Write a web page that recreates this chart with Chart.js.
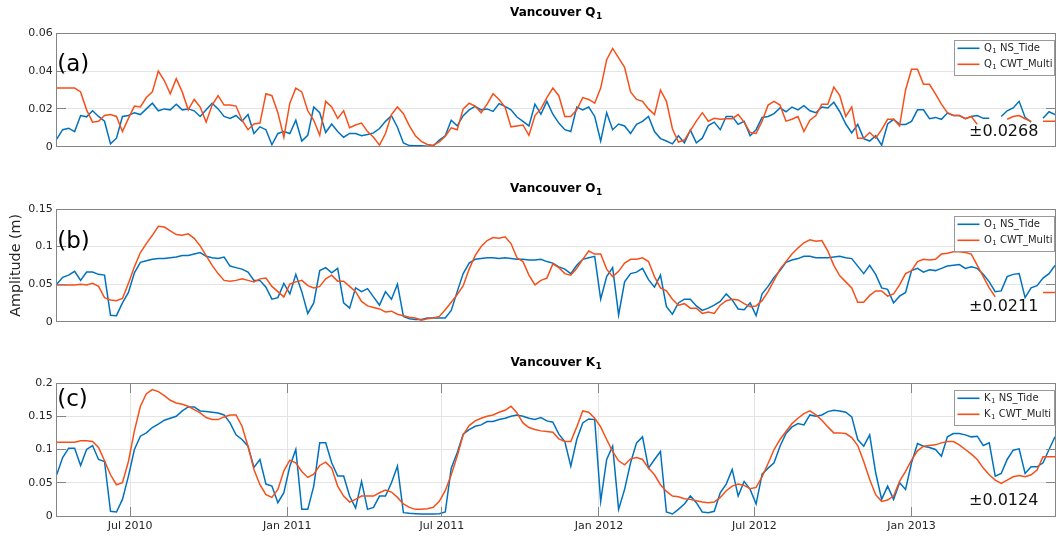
<!DOCTYPE html>
<html>
<head>
<meta charset="utf-8">
<script src="https://cdn.jsdelivr.net/npm/chart.js@4.4.1/dist/chart.umd.min.js"></script>
<style>
  html, body { margin: 0; padding: 0; background: #ffffff; }
  #wrap { position: relative; width: 1056px; height: 536px; }
  #wrap canvas { position: absolute; left: 0; top: 0; }
</style>
</head>
<body>
<div id="wrap">
  <canvas id="q1" width="1056" height="536"></canvas>
  <canvas id="o1" width="1056" height="536"></canvas>
  <canvas id="k1" width="1056" height="536"></canvas>
</div>
<script>
// Weekly amplitude estimates, first sample on 6 Apr 2010
const SERIES_START = Date.UTC(2010, 3, 6);
const STEP_DAYS = 7;
const DAY_MS = 864e5;

const tickLabels = ['Jul 2010', 'Jan 2011', 'Jul 2011', 'Jan 2012', 'Jul 2012', 'Jan 2013'];
const tickDates = [[2010, 6], [2011, 0], [2011, 6], [2012, 0], [2012, 6], [2013, 0]];

const q1Ticks = [0, 0.02, 0.04, 0.06];
const o1Ticks = [0, 0.05, 0.1, 0.15];
const k1Ticks = [0, 0.05, 0.1, 0.15, 0.2];

// Q1 amplitude (m)
const q1Tide = [
  0.004,0.009,0.0098,0.008,0.0165,0.0158,0.019,0.016,0.0135,0.0015,
  0.0045,0.016,0.0165,0.018,0.017,0.020,0.023,0.019,0.020,0.0195,
  0.0225,0.0195,0.020,0.019,0.016,0.0195,0.023,0.020,0.016,0.015,
  0.0165,0.0135,0.017,0.007,0.0105,0.009,0.001,0.007,0.008,0.007,
  0.014,0.003,0.006,0.021,0.018,0.0075,0.012,0.008,0.005,0.007,
  0.007,0.0058,0.0065,0.0073,0.0096,0.0134,0.0164,0.0103,0.002,0.0006,
  0.0005,0.0005,0.0003,0.0005,0.0035,0.0058,0.014,0.011,0.0164,0.0195,
  0.0213,0.0195,0.020,0.0187,0.0228,0.0213,0.0195,0.0157,0.0134,0.011,
  0.0225,0.0172,0.024,0.0172,0.0125,0.009,0.008,0.021,0.0195,0.021,
  0.016,0.003,0.018,0.009,0.012,0.011,0.007,0.0118,0.0134,0.016,
  0.008,0.0043,0.003,0.0015,0.0058,0.002,0.0088,0.002,0.0045,0.0112,
  0.013,0.009,0.016,0.016,0.0118,0.0134,0.0058,0.009,0.0155,0.016,
  0.0175,0.0205,0.0185,0.021,0.0195,0.0217,0.019,0.018,0.021,0.0205,
  0.0235,0.0185,0.012,0.0073,0.0118,0.0043,0.003,0.0058,0.0008,0.012,
  0.0145,0.0118,0.0118,0.0134,0.0195,0.0195,0.0148,0.0155,0.0145,0.0178,
  0.0165,0.0165,0.0148,0.016,0.0165,0.015,0.015,null,0.016,0.019,
  0.0205,0.024,0.0155,0.013,null,0.015,0.0185,0.017
];
const q1Cwt = [
  0.031,0.031,0.031,0.031,0.029,0.0195,0.013,0.0135,0.0165,0.017,
  0.016,0.008,0.015,0.0215,0.021,0.026,0.029,0.040,0.035,0.028,
  0.036,0.029,0.0195,0.025,0.021,0.013,0.022,0.027,0.022,0.022,
  0.0215,0.014,0.009,0.012,0.0125,0.028,0.027,0.018,0.005,0.023,
  0.031,0.029,0.019,0.014,0.006,0.024,0.021,0.015,0.019,0.010,
  0.0115,0.0125,0.008,0.005,0.0008,0.007,0.017,0.021,0.0175,0.011,
  0.0058,0.0028,0.0012,0.0008,0.0025,0.0055,0.010,0.009,0.020,0.023,
  0.0215,0.018,0.0225,0.028,0.025,0.021,0.0105,0.011,0.0115,0.006,
  0.0165,0.020,0.026,0.031,0.027,0.016,0.016,0.0195,0.026,0.025,
  0.023,0.031,0.046,0.052,0.047,0.042,0.029,0.025,0.024,0.020,
  0.017,0.030,0.024,0.0095,0.0025,0.0035,0.0085,0.0135,0.018,0.0135,
  0.015,0.0145,0.0148,0.0148,0.017,0.013,0.0075,0.007,0.0135,0.022,
  0.024,0.022,0.0135,0.0145,0.016,0.008,0.014,0.0165,0.0225,0.0225,
  0.0315,0.027,0.016,0.021,0.0045,0.0045,0.0075,0.0045,0.009,0.0145,
  0.0145,0.011,0.030,0.041,0.041,0.033,0.033,0.028,0.0225,0.018,
  0.0165,0.0165,0.0148,0.016,0.0118,null,null,null,null,0.0145,
  0.016,0.0165,0.0148,0.0134,null,0.0134,0.0134,0.0134
];

// O1 amplitude (m)
const o1Tide = [
  0.050,0.059,0.062,0.067,0.055,0.066,0.066,0.063,0.062,0.0085,
  0.008,0.025,0.039,0.065,0.079,0.081,0.083,0.084,0.084,0.085,
  0.086,0.088,0.088,0.090,0.092,0.087,0.085,0.084,0.086,0.074,
  0.072,0.070,0.066,0.055,0.055,0.046,0.030,0.032,0.051,0.037,
  0.063,0.040,0.011,0.025,0.068,0.072,0.065,0.071,0.025,0.018,
  0.045,0.040,0.044,0.033,0.022,0.040,0.030,0.050,0.007,0.004,
  0.003,0.003,0.005,0.005,0.005,0.005,0.015,0.040,0.064,0.078,
  0.083,0.084,0.085,0.085,0.084,0.085,0.084,0.083,0.083,0.082,
  0.082,0.083,0.080,0.078,0.073,0.070,0.064,0.075,0.083,0.085,
  0.087,0.030,0.060,0.072,0.009,0.053,0.064,0.066,0.071,0.056,
  0.046,0.062,0.020,0.010,0.025,0.030,0.030,0.021,0.015,0.018,
  0.022,0.027,0.037,0.029,0.017,0.016,0.025,0.008,0.037,0.047,
  0.059,0.068,0.079,0.082,0.084,0.087,0.087,0.085,0.085,0.085,
  0.086,0.087,0.085,0.084,0.074,0.064,0.075,0.063,0.045,0.043,
  0.025,0.034,0.039,0.068,0.071,0.066,0.069,0.068,0.071,0.074,
  0.075,0.076,0.071,0.073,0.071,0.063,0.053,0.040,0.041,0.060,
  0.063,0.064,0.032,0.045,0.048,0.058,0.064,0.075
];
const o1Cwt = [
  0.049,0.049,0.049,0.049,0.050,0.049,0.051,0.047,0.032,0.029,
  0.028,0.031,0.051,0.073,0.092,0.104,0.115,0.127,0.126,0.121,
  0.116,0.115,0.117,0.111,0.101,0.088,0.075,0.064,0.055,0.054,
  0.055,0.057,0.055,0.053,0.057,0.058,0.047,0.040,0.033,0.050,
  0.053,0.055,0.048,0.045,0.047,0.057,0.062,0.054,0.054,0.047,
  0.040,0.027,0.021,0.019,0.017,0.013,0.014,0.010,0.008,0.006,
  0.005,0.002,0.004,0.005,0.007,0.016,0.026,0.036,0.048,0.070,
  0.088,0.100,0.108,0.112,0.111,0.113,0.104,0.085,0.080,0.062,
  0.049,0.055,0.058,0.077,0.072,0.064,0.062,0.071,0.083,0.094,
  0.090,0.090,0.070,0.060,0.067,0.078,0.083,0.083,0.085,0.080,
  0.060,0.045,0.041,0.030,0.022,0.024,0.018,0.018,0.011,0.013,
  0.011,0.022,0.028,0.030,0.029,0.024,0.020,0.021,0.028,0.040,
  0.055,0.070,0.080,0.090,0.098,0.105,0.109,0.107,0.108,0.094,
  0.075,0.061,0.053,0.045,0.026,0.026,0.035,0.041,0.041,0.034,
  0.037,0.049,0.064,0.068,0.080,0.083,0.082,0.083,0.090,0.091,
  0.093,0.093,0.092,0.090,0.075,0.060,0.045,0.033,null,null,
  null,null,null,null,null,0.039,0.039,0.039
];

// K1 amplitude (m)
const k1Tide = [
  0.062,0.088,0.102,0.102,0.076,0.100,0.106,0.085,0.082,0.007,
  0.006,0.025,0.060,0.100,0.120,0.125,0.133,0.138,0.144,0.147,
  0.150,0.158,0.164,0.164,0.158,0.157,0.156,0.155,0.152,0.140,
  0.122,0.115,0.105,0.073,0.085,0.048,0.045,0.020,0.035,0.075,
  0.100,0.010,0.010,0.045,0.110,0.110,0.080,0.060,0.060,0.030,
  0.012,0.052,0.010,0.013,0.030,0.030,0.050,0.075,0.005,0.004,
  0.0035,0.003,0.003,0.003,0.0035,0.006,0.072,0.095,0.123,0.130,
  0.135,0.137,0.142,0.142,0.145,0.147,0.150,0.152,0.150,0.147,
  0.145,0.148,0.143,0.141,0.123,0.112,0.075,0.115,0.140,0.146,
  0.145,0.022,0.085,0.105,0.010,0.040,0.080,0.110,0.119,0.072,
  0.085,0.097,0.006,0.003,0.010,0.018,0.030,0.020,0.006,0.005,
  0.007,0.035,0.048,0.070,0.030,0.052,0.040,0.018,0.063,0.072,
  0.080,0.105,0.124,0.134,0.139,0.137,0.152,0.150,0.152,0.157,
  0.159,0.158,0.156,0.149,0.115,0.105,0.122,0.065,0.025,0.045,
  0.025,0.050,0.040,0.080,0.109,0.105,0.103,0.100,0.090,0.119,
  0.124,0.124,0.122,0.119,0.120,0.106,0.110,0.060,0.064,0.085,
  0.099,0.101,0.064,0.074,0.074,0.080,0.100,0.119
];
const k1Cwt = [
  0.111,0.111,0.111,0.111,0.113,0.113,0.112,0.103,0.083,0.062,
  0.047,0.050,0.082,0.128,0.165,0.184,0.190,0.187,0.181,0.174,
  0.170,0.168,0.165,0.160,0.155,0.148,0.145,0.145,0.149,0.152,
  0.152,0.135,0.105,0.070,0.047,0.032,0.028,0.040,0.068,0.084,
  0.080,0.067,0.058,0.063,0.076,0.081,0.072,0.045,0.030,0.021,
  0.025,0.030,0.030,0.030,0.035,0.039,0.036,0.028,0.018,0.013,
  0.010,0.010,0.011,0.013,0.022,0.038,0.062,0.090,0.122,0.136,
  0.143,0.147,0.150,0.152,0.156,0.159,0.165,0.155,0.140,0.133,
  0.130,0.128,0.127,0.126,0.116,0.112,0.112,0.134,0.158,0.156,
  0.147,0.134,0.115,0.097,0.083,0.077,0.086,0.088,0.085,0.072,
  0.062,0.047,0.037,0.030,0.029,0.026,0.025,0.023,0.021,0.020,
  0.021,0.028,0.038,0.045,0.048,0.046,0.041,0.043,0.059,0.079,
  0.100,0.115,0.127,0.139,0.147,0.154,0.158,0.152,0.144,0.134,
  0.125,0.125,0.124,0.118,0.106,0.082,0.055,0.032,0.022,0.024,
  0.030,0.052,0.067,0.084,0.098,0.105,0.106,0.107,0.110,0.112,
  0.112,0.107,0.100,0.093,0.085,0.072,0.062,0.054,0.049,0.054,
  0.059,0.061,0.059,0.062,0.069,0.089,0.089,0.089
];

const TIDE_COLOR = '#0072BD';
const CWT_COLOR = '#F5501A';
const AXIS_COLOR = '#858585';
const GRID_COLOR = '#e4e4e4';
const TEXT_COLOR = '#262626';
const FONT = '"DejaVu Sans", sans-serif';

Chart.defaults.font.family = FONT;

const tickDays = tickDates.map(([y, m]) => (Date.UTC(y, m, 1) - SERIES_START) / DAY_MS);
const xMax = (q1Tide.length - 1) * STEP_DAYS;
const toPoints = vals => vals.map((v, i) => ({ x: i * STEP_DAYS, y: v }));

// Text with a subscript digit after the base, e.g. "Q" + "1" + " NS_Tide"
function drawSubText(ctx, x, y, base, sub, rest, size, weight, align) {
  const font = s => `${weight} ${s}px ${FONT}`;
  const subSize = Math.round(size * 0.72);
  ctx.font = font(size);
  const w1 = ctx.measureText(base).width;
  const w3 = ctx.measureText(rest).width;
  ctx.font = font(subSize);
  const w2 = ctx.measureText(sub).width;
  const x0 = align === 'center' ? x - (w1 + w2 + w3) / 2 : x;
  ctx.textAlign = 'left';
  ctx.textBaseline = 'middle';
  ctx.font = font(size);
  ctx.fillText(base, x0, y);
  ctx.font = font(subSize);
  ctx.fillText(sub, x0 + w1 + 0.5, y + size * 0.32);
  ctx.font = font(size);
  ctx.fillText(rest, x0 + w1 + w2 + 0.5, y);
}

// Box, inward ticks, titles, panel tag, error note and in-axes legend
const decorations = {
  id: 'decorations',
  afterDatasetsDraw(chart, args, o) {
    const { ctx, chartArea: a, scales } = chart;
    const L = Math.floor(a.left) + 0.5, R = Math.floor(a.right) + 0.5;
    const T = Math.floor(a.top) + 0.5, B = Math.floor(a.bottom) + 0.5;
    ctx.save();
    ctx.strokeStyle = AXIS_COLOR;
    ctx.lineWidth = 1;
    ctx.beginPath();
    o.yTicks.forEach(v => {
      const y = Math.floor(scales.y.getPixelForValue(v)) + 0.5;
      ctx.moveTo(L, y); ctx.lineTo(L + 9.5, y);
      ctx.moveTo(R, y); ctx.lineTo(R - 9.5, y);
    });
    if (o.xTicks) {
      tickDays.forEach(d => {
        const x = Math.floor(scales.x.getPixelForValue(d)) + 0.5;
        ctx.moveTo(x, B); ctx.lineTo(x, B - 9.5);
        ctx.moveTo(x, T); ctx.lineTo(x, T + 9.5);
      });
    }
    ctx.stroke();
    ctx.strokeRect(L, T, R - L, B - T);

    // title
    ctx.fillStyle = '#000000';
    drawSubText(ctx, (a.left + a.right) / 2, a.top - 20, 'Vancouver ' + o.comp, '1', '', 12, 'bold', 'center');

    // panel tag
    ctx.font = `23px ${FONT}`;
    ctx.textAlign = 'left';
    ctx.textBaseline = 'middle';
    ctx.fillStyle = '#000000';
    ctx.fillText(o.tag, a.left + 0.5, o.tagY);

    // error note
    ctx.font = `16px ${FONT}`;
    ctx.fillStyle = '#111111';
    ctx.fillText(o.err, 969, a.bottom - 15);

    // y axis title
    if (o.yTitle) {
      ctx.save();
      ctx.translate(16.7, (a.top + a.bottom) / 2);
      ctx.rotate(-Math.PI / 2);
      ctx.font = `14.3px ${FONT}`;
      ctx.textAlign = 'center';
      ctx.fillStyle = TEXT_COLOR;
      ctx.fillText(o.yTitle, 0, 0);
      ctx.restore();
    }

    // legend
    const lx = Math.floor(a.right) - 101 + 0.5, ly = Math.floor(a.top + 7) + 0.5;
    ctx.fillStyle = '#ffffff';
    ctx.fillRect(lx, ly, 100, 35);
    ctx.strokeStyle = '#9a9a9a';
    ctx.strokeRect(lx, ly, 100, 35);
    o.entries.forEach((e, k) => {
      const y = ly + 7.8 + k * 16;
      ctx.strokeStyle = e.color;
      ctx.lineWidth = 1.6;
      ctx.beginPath();
      ctx.moveTo(lx + 3, y); ctx.lineTo(lx + 25, y);
      ctx.stroke();
      ctx.fillStyle = TEXT_COLOR;
      drawSubText(ctx, lx + 29.5, y, o.comp, '1', ' ' + e.label, 10, 'normal', 'left');
    });
    ctx.restore();
  }
};

const panels = [
  { canvas: 'q1', comp: 'Q', tide: q1Tide, cwt: q1Cwt, yTicks: q1Ticks, tag: '(a)', err: '\u00b10.0268',
    top: 33.3, bottom: 166.7, tagY: 65, xAxis: false },
  { canvas: 'o1', comp: 'O', tide: o1Tide, cwt: o1Cwt, yTicks: o1Ticks, tag: '(b)', err: '\u00b10.0211',
    top: 209, bottom: 341.7, tagY: 241.7, xAxis: false, yTitle: 'Amplitude (m)' },
  { canvas: 'k1', comp: 'K', tide: k1Tide, cwt: k1Cwt, yTicks: k1Ticks, tag: '(c)', err: '\u00b10.0124',
    top: 383, bottom: 516, tagY: 399.6, xAxis: true }
];

const X_AXIS_HEIGHT = 20;

panels.forEach(p => {
  const canvasH = 536;
  const padBottom = p.xAxis ? canvasH - p.bottom - X_AXIS_HEIGHT : canvasH - p.bottom;
  const yMax = p.yTicks[p.yTicks.length - 1];
  new Chart(document.getElementById(p.canvas), {
    type: 'line',
    data: {
      datasets: [
        { label: p.comp + '1 NS_Tide', data: toPoints(p.tide), borderColor: TIDE_COLOR,
          borderWidth: 1.5, pointRadius: 0, tension: 0, spanGaps: false, order: 2 },
        { label: p.comp + '1 CWT_Multi', data: toPoints(p.cwt), borderColor: CWT_COLOR,
          borderWidth: 1.5, pointRadius: 0, tension: 0, spanGaps: false, order: 1 }
      ]
    },
    options: {
      responsive: false,
      animation: false,
      events: [],
      layout: { padding: { top: p.top, bottom: padBottom, left: 0, right: 1 } },
      plugins: {
        legend: { display: false },
        tooltip: { enabled: false },
        title: { display: false },
        decorations: {
          comp: p.comp, yTicks: p.yTicks, xTicks: p.xAxis, tag: p.tag, tagY: p.tagY,
          err: p.err, yTitle: p.yTitle,
          entries: [ { color: TIDE_COLOR, label: 'NS_Tide' }, { color: CWT_COLOR, label: 'CWT_Multi' } ]
        }
      },
      scales: {
        x: {
          type: 'linear',
          display: p.xAxis,
          min: 0,
          max: xMax,
          afterBuildTicks: s => { s.ticks = tickDays.map(v => ({ value: v })); },
          afterFit: s => { s.height = X_AXIS_HEIGHT; },
          grid: { color: GRID_COLOR, drawTicks: false, lineWidth: 1 },
          border: { display: false },
          ticks: {
            autoSkip: false, maxRotation: 0, padding: 4, color: TEXT_COLOR,
            font: { size: 11 },
            callback: v => tickLabels[tickDays.indexOf(v)] ?? ''
          }
        },
        y: {
          type: 'linear',
          min: 0,
          max: yMax,
          afterBuildTicks: s => { s.ticks = p.yTicks.map(v => ({ value: v })); },
          afterFit: s => { s.width = 56.7; },
          grid: { color: GRID_COLOR, drawTicks: false, lineWidth: 1 },
          border: { display: false },
          ticks: {
            padding: 4, color: TEXT_COLOR, font: { size: 11 },
            callback: v => String(+Number(v).toFixed(3))
          }
        }
      }
    },
    plugins: [decorations]
  });
});
</script>
</body>
</html>
